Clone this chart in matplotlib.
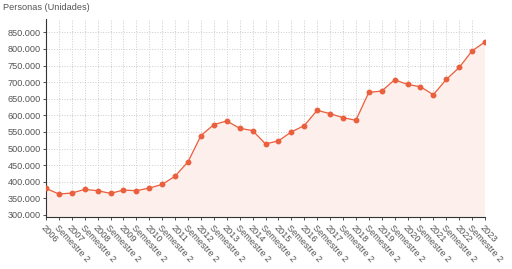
import matplotlib
matplotlib.use("Agg")
from matplotlib import pyplot as plt
from matplotlib.ticker import FuncFormatter, MultipleLocator

years = list(range(2006, 2024))
labels = []
for y in years:
    labels.append(str(y))
    if y != 2023:
        labels.append('Semestre 2')

personas = [380000, 363000, 366000, 377000, 373000, 365000, 375000, 373000, 381000, 392000,
            417000, 460000, 539000, 572000, 583000, 561000, 554000, 514000, 523000, 550000,
            569000, 615000, 605000, 593000, 585000, 669000, 673000, 707000, 693000, 686000,
            662000, 708000, 744000, 794000, 821000]

line_color = '#ea5f3d'
text_color = '#555555'

plt.rcParams['font.family'] = ['Liberation Sans', 'DejaVu Sans']

fig = plt.figure(figsize=(5.12, 2.69), dpi=100)
ax = fig.add_axes([46 / 512, 1 - 217.3 / 269, (485 - 46) / 512, (217.3 - 19) / 269])

x = list(range(len(personas)))
ax.fill_between(x, personas, 0, color='#fdf0ec', zorder=1)
ax.plot(x, personas, color=line_color, linewidth=0.9, marker='o', markersize=3.2, zorder=3)

ax.set_xlim(0, len(personas) - 1)
ax.set_ylim(293000, 890000)

ax.yaxis.set_major_locator(MultipleLocator(50000))
ax.yaxis.set_major_formatter(FuncFormatter(lambda v, p: f'{int(v):,}'.replace(',', '.') if v >= 300000 else ''))
ax.set_xticks(x)
ax.set_xticklabels(labels, rotation=-47, ha='left', va='top', rotation_mode='anchor')

ax.grid(True, color='#cccccc', linestyle=':', linewidth=0.7, zorder=0)
ax.set_axisbelow(True)

for side in ['top', 'right']:
    ax.spines[side].set_visible(False)
for side in ['left', 'bottom']:
    ax.spines[side].set_color('#333333')
    ax.spines[side].set_linewidth(0.8)

ax.tick_params(axis='both', labelsize=6.6, colors=text_color, length=2.5, width=0.6, pad=1.5)
ax.tick_params(axis='both', color='#333333')

fig.text(3 / 512, 1 - 8 / 269, 'Personas (Unidades)', fontsize=6.6, color=text_color,
         ha='left', va='center')

fig.savefig('out.png', dpi=100)
